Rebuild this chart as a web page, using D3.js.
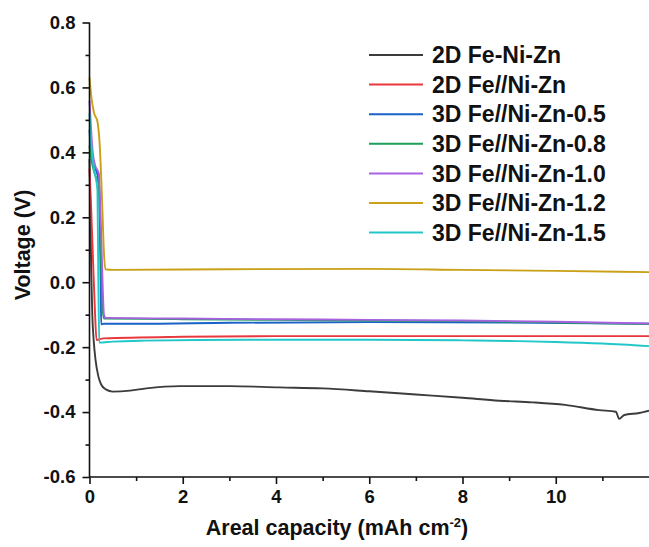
<!DOCTYPE html>
<html><head><meta charset="utf-8">
<script src="https://cdn.jsdelivr.net/npm/d3@7/dist/d3.min.js"></script>
<style>body{margin:0;background:#fff}svg{display:block;font-family:"Liberation Sans",Arial,sans-serif}</style>
</head><body><svg id="c" width="649" height="547"></svg>
<script>
// ---- data (capacity mAh cm^-2, voltage V) ----
const seriesNames = ["2D Fe-Ni-Zn","2D Fe//Ni-Zn","3D Fe//Ni-Zn-0.5","3D Fe//Ni-Zn-0.8","3D Fe//Ni-Zn-1.0","3D Fe//Ni-Zn-1.2","3D Fe//Ni-Zn-1.5"];
const seriesColors = ["#3c3c3c","#e8383d","#1a62c6","#1e9e5a","#a862e0","#c9a017","#22c7c9"];
const s2D_FeNiZn = [[0,0.38],[0.02,0.2],[0.04,0.02],[0.06,-0.1],[0.09,-0.18],[0.13,-0.24],[0.19,-0.29],[0.25,-0.315],[0.35,-0.33],[0.5,-0.337],[0.87,-0.334],[1.22,-0.327],[1.94,-0.32],[3,-0.32],[4.08,-0.324],[5,-0.327],[6,-0.336],[7,-0.346],[8,-0.356],[8.79,-0.365],[9.5,-0.37],[10.2,-0.378],[10.93,-0.394],[11.29,-0.399],[11.36,-0.421],[11.47,-0.409],[11.79,-0.403],[12,-0.396]];
const s2D_FeNi = [[0,0.35],[0.03,0.25],[0.08,0.05],[0.12,-0.1],[0.15,-0.178],[0.3,-0.173],[2,-0.168],[4,-0.166],[6,-0.166],[8,-0.166],[10,-0.166],[12,-0.166]];
const s3D_05 = [[0,0.47],[0.05,0.38],[0.1,0.36],[0.2,0.31],[0.22,0.2],[0.24,0.0],[0.25,-0.13],[0.3,-0.128],[1,-0.128],[3,-0.125],[6,-0.123],[9,-0.124],[12,-0.128]];
const s3D_08 = [[0,0.42],[0.05,0.37],[0.12,0.33],[0.2,0.3],[0.24,0.12],[0.28,-0.08],[0.31,-0.112],[2,-0.114],[4,-0.116],[6,-0.118],[8,-0.12],[10,-0.124],[12,-0.129]];
const s3D_10 = [[0,0.56],[0.03,0.48],[0.07,0.4],[0.12,0.36],[0.2,0.335],[0.24,0.2],[0.28,0.0],[0.31,-0.1],[0.35,-0.11],[2,-0.112],[4,-0.114],[6,-0.116],[8,-0.118],[10,-0.122],[12,-0.127]];
const s3D_12 = [[0,0.63],[0.04,0.57],[0.1,0.52],[0.17,0.495],[0.22,0.42],[0.27,0.25],[0.31,0.09],[0.34,0.04],[0.5,0.038],[3,0.04],[6,0.041],[8,0.038],[10,0.035],[12,0.031]];
const s3D_15 = [[0,0.52],[0.04,0.42],[0.1,0.346],[0.17,0.284],[0.19,0.0],[0.21,-0.186],[0.5,-0.183],[1.2,-0.18],[3.4,-0.177],[6,-0.177],[8,-0.179],[9,-0.181],[10,-0.184],[11,-0.189],[12,-0.197]];
const seriesData = [s2D_FeNiZn,s2D_FeNi,s3D_05,s3D_08,s3D_10,s3D_12,s3D_15];
const xMajorTicks = [0,2,4,6,8,10];
const xMinorTicks = [1,3,5,7,9,11];
const yMajorTicks = [-0.6,-0.4,-0.2,0.0,0.2,0.4,0.6,0.8];
const yMinorTicks = [-0.5,-0.3,-0.1,0.1,0.3,0.5,0.7];

const svg = d3.select("#c");
const x = d3.scaleLinear().domain([0,12]).range([89.5,649]);
const y = d3.scaleLinear().domain([-0.6,0.8]).range([477,22.5]);
const fmtY = v => d3.format(".1f")(v).replace("−","-");

// data lines
const line = d3.line().x(d=>x(d[0])).y(d=>y(d[1])).curve(d3.curveMonotoneX);
svg.append("g").selectAll("path").data(seriesData).join("path")
  .attr("d", line).attr("fill","none")
  .attr("stroke",(d,i)=>seriesColors[i]).attr("stroke-width",1.9)
  .attr("stroke-linejoin","round");

// x axis
const gx = svg.append("g").attr("transform",`translate(0,${y(-0.6)})`);
gx.call(d3.axisBottom(x).tickValues(xMajorTicks).tickFormat(d3.format("d")).tickSize(7).tickPadding(6));
gx.append("g").call(d3.axisBottom(x).tickValues(xMinorTicks).tickFormat("").tickSize(4)).select(".domain").remove();
gx.select(".domain").attr("d",`M${x(0)},0H649`);
// y axis
const gy = svg.append("g").attr("transform",`translate(${x(0)},0)`);
gy.call(d3.axisLeft(y).tickValues(yMajorTicks).tickFormat(fmtY).tickSize(7).tickPadding(7));
gy.append("g").call(d3.axisLeft(y).tickValues(yMinorTicks).tickFormat("").tickSize(4)).select(".domain").remove();
gy.select(".domain").attr("d",`M0,${y(0.8)}V${y(-0.6)}`);
svg.selectAll(".domain").attr("stroke","#111").attr("stroke-width",1.6);
svg.selectAll(".tick line").attr("stroke","#111").attr("stroke-width",1.6);
svg.selectAll(".tick text").attr("font-size",18.5).attr("font-weight","bold").attr("fill","#111")
  .attr("font-family","'Liberation Sans',Arial,sans-serif");

// axis titles
const xt = svg.append("text").attr("x",337).attr("y",535).attr("text-anchor","middle")
  .attr("font-size",21.5).attr("font-weight","bold").attr("fill","#111");
xt.append("tspan").text("Areal capacity (mAh cm");
xt.append("tspan").attr("dy",-8).attr("font-size",13).text("-2");
xt.append("tspan").attr("dy",8).text(")");
svg.append("text").attr("transform","translate(30,245) rotate(-90)").attr("text-anchor","middle")
  .attr("font-size",21.5).attr("font-weight","bold").attr("fill","#111").text("Voltage (V)");

// legend
const lg = svg.append("g");
seriesNames.forEach((n,i)=>{
  const yy = 55 + i*29.6;
  lg.append("line").attr("x1",369).attr("x2",423).attr("y1",yy).attr("y2",yy)
    .attr("stroke",seriesColors[i]).attr("stroke-width",2);
  lg.append("text").attr("x",432).attr("y",yy).attr("dy","0.36em")
    .attr("font-size",23).attr("font-weight","bold").attr("fill","#111").text(n);
});
</script></body></html>
